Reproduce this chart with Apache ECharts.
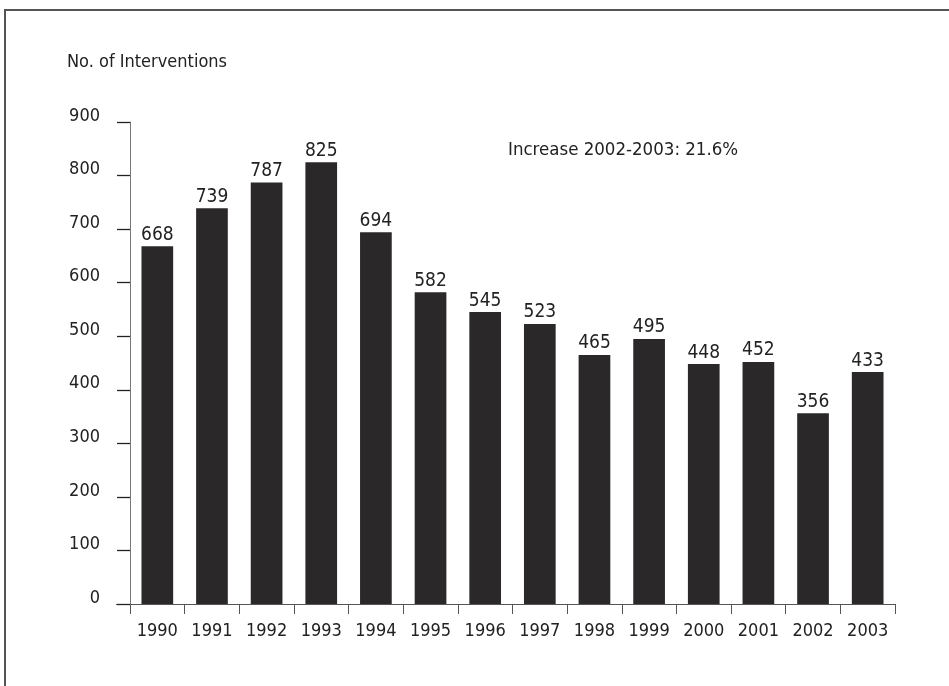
<!DOCTYPE html>
<html><head><meta charset="utf-8">
<script src="https://cdn.jsdelivr.net/npm/echarts@6/dist/echarts.min.js"></script>
<style>html,body{margin:0;padding:0;background:#fff}#c{width:949px;height:686px}</style>
</head><body><div id="c"></div>
<script>
const years = ['1990','1991','1992','1993','1994','1995','1996','1997','1998','1999','2000','2001','2002','2003'];
const interventions = [668,739,787,825,694,582,545,523,465,495,448,452,356,433];
const yTicks = [0,100,200,300,400,500,600,700,800,900];
const titleText = 'No. of Interventions';
const noteText = 'Increase 2002-2003: 21.6%';

const FONT = "'Liberation Sans Narrow','Arial Narrow','DejaVu Sans Condensed',sans-serif";
const chart = echarts.init(document.getElementById('c'));
chart.setOption({
  animation: false,
  backgroundColor: '#fff',
  grid: { left: 130, right: 54, top: 122, bottom: 82 },
  xAxis: {
    type: 'category', data: years,
    axisLine: { lineStyle: { color: '#555', width: 1 } },
    axisTick: { show: true, length: 10, alignWithLabel: false, lineStyle: { color: '#555' } },
    axisLabel: { color: '#222', fontSize: 18, fontFamily: FONT, margin: 18 }
  },
  yAxis: {
    type: 'value', min: 0, max: 900, interval: 100,
    axisLine: { show: true, lineStyle: { color: '#777', width: 1 } },
    axisTick: { show: true, length: 13, lineStyle: { color: '#222', width: 1.3 } },
    splitLine: { show: false },
    axisLabel: { color: '#222', fontSize: 18, fontFamily: FONT, margin: 30, verticalAlign: 'bottom', lineHeight: 12,
      formatter: v => yTicks.includes(v) ? String(v) : '' }
  },
  series: [{
    type: 'bar', data: interventions, barWidth: '58%',
    itemStyle: { color: '#2b2829' },
    label: { show: true, position: 'top', distance: 2, color: '#222', fontSize: 19, fontFamily: FONT }
  }],
  graphic: [
    { type: 'rect', shape: { x: 5, y: 10, width: 960, height: 700 }, style: { fill: 'none', stroke: '#555', lineWidth: 2 }, silent: true },
    { type: 'text', left: 67, top: 53, style: { text: titleText, fill: '#222', font: '18px ' + FONT } },
    { type: 'text', left: 508, top: 141, style: { text: noteText, fill: '#222', font: '18.5px ' + FONT } },
    { type: 'line', shape: { x1: 116, y1: 604.5, x2: 130, y2: 604.5 }, style: { stroke: '#555', lineWidth: 1 } }
  ]
});
</script></body></html>
